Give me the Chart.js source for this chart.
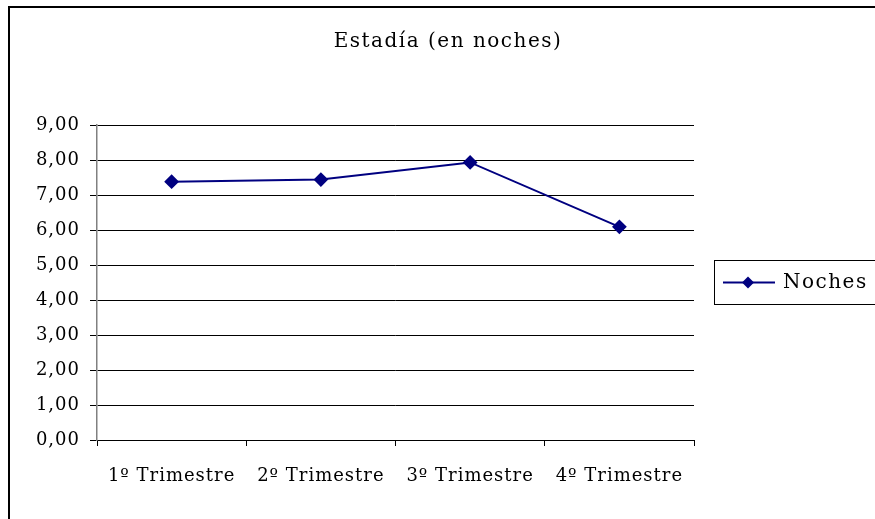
<!DOCTYPE html>
<html>
<head>
<meta charset="utf-8">
<script src="https://cdn.jsdelivr.net/npm/chart.js@4/dist/chart.umd.min.js"></script>
<style>
  html, body { margin: 0; padding: 0; background: #fff; }
  #wrap { width: 875px; height: 519px; position: relative; }
</style>
</head>
<body>
<div id="wrap"><canvas id="chart" width="875" height="519"></canvas></div>
<script>
'use strict';

// Chart data
const categories = ['1º Trimestre', '2º Trimestre', '3º Trimestre', '4º Trimestre'];
const noches = [7.38, 7.44, 7.93, 6.09];
const seriesLabel = 'Noches';
const chartTitle = 'Estadía (en noches)';

const navy = '#000080';
const fontFamily = '"DejaVu Serif", "Liberation Serif", serif';

// white background, frame (top/left visible) and wide letter spacing
const framePlugin = {
    id: 'frame',
    beforeDraw(chart) {
        const ctx = chart.ctx;
        ctx.save();
        ctx.fillStyle = '#fff';
        ctx.fillRect(0, 0, chart.width, chart.height);
        ctx.strokeStyle = '#000';
        ctx.lineWidth = 2;
        ctx.beginPath();
        ctx.moveTo(9, chart.height);
        ctx.lineTo(9, 7);
        ctx.lineTo(chart.width, 7);
        ctx.stroke();
        ctx.restore();
        ctx.letterSpacing = '1px';
    }
};

// title centred on the whole frame
const titlePlugin = {
    id: 'frameTitle',
    afterDraw(chart) {
        const ctx = chart.ctx;
        ctx.save();
        ctx.letterSpacing = '1.5px';
        ctx.fillStyle = '#000';
        ctx.font = '20px ' + fontFamily;
        ctx.textAlign = 'center';
        ctx.textBaseline = 'middle';
        ctx.fillText(chartTitle, 448, 42);
        ctx.restore();
    }
};

// legend box on the right, drawn from the dataset
const legendPlugin = {
    id: 'sideLegend',
    afterDraw(chart) {
        const ctx = chart.ctx;
        const ds = chart.data.datasets[0];
        const x = 714, y = 260, w = 190, h = 44;
        ctx.save();
        ctx.strokeStyle = '#000';
        ctx.lineWidth = 1;
        ctx.strokeRect(x + 0.5, y + 0.5, w, h);
        const cy = y + h / 2 + 0.5;
        ctx.strokeStyle = ds.borderColor;
        ctx.lineWidth = 2;
        ctx.beginPath();
        ctx.moveTo(x + 9, cy);
        ctx.lineTo(x + 61, cy);
        ctx.stroke();
        ctx.fillStyle = ds.backgroundColor;
        ctx.beginPath();
        ctx.moveTo(x + 34, cy - 6);
        ctx.lineTo(x + 40, cy);
        ctx.lineTo(x + 34, cy + 6);
        ctx.lineTo(x + 28, cy);
        ctx.closePath();
        ctx.fill();
        ctx.letterSpacing = '1.5px';
        ctx.fillStyle = '#000';
        ctx.font = '20px ' + fontFamily;
        ctx.textBaseline = 'middle';
        ctx.fillText(ds.label, x + 69, cy);
        ctx.restore();
    }
};

const ctx = document.getElementById('chart').getContext('2d');
new Chart(ctx, {
    type: 'line',
    data: {
        labels: categories,
        datasets: [{
            label: seriesLabel,
            data: noches,
            borderColor: navy,
            backgroundColor: navy,
            borderWidth: 2,
            pointStyle: 'rectRot',
            pointRadius: 6,
            pointHoverRadius: 6,
            tension: 0
        }]
    },
    options: {
        responsive: false,
        animation: false,
        layout: {
            padding: { left: 0, top: 125, right: 181, bottom: 0 }
        },
        plugins: {
            legend: { display: false },
            tooltip: { enabled: false },
            title: { display: false }
        },
        scales: {
            x: {
                offset: true,
                afterFit: scale => { scale.height = 79; },
                grid: {
                    offset: true,
                    drawOnChartArea: false,
                    drawTicks: true,
                    tickLength: 6,
                    color: '#000'
                },
                border: { color: '#000', width: 1 },
                ticks: {
                    color: '#000',
                    padding: 20,
                    maxRotation: 0,
                    font: { family: fontFamily, size: 18 }
                }
            },
            y: {
                min: 0,
                max: 9,
                afterFit: scale => { scale.width = 97; },
                ticks: {
                    stepSize: 1,
                    color: '#000',
                    padding: 10,
                    font: { family: fontFamily, size: 18 },
                    callback: v => v.toFixed(2).replace('.', ',')
                },
                grid: {
                    color: '#000',
                    lineWidth: 1,
                    tickLength: 7
                },
                border: { color: '#808080', width: 1.5 }
            }
        }
    },
    plugins: [framePlugin, titlePlugin, legendPlugin]
});
</script>
</body>
</html>
